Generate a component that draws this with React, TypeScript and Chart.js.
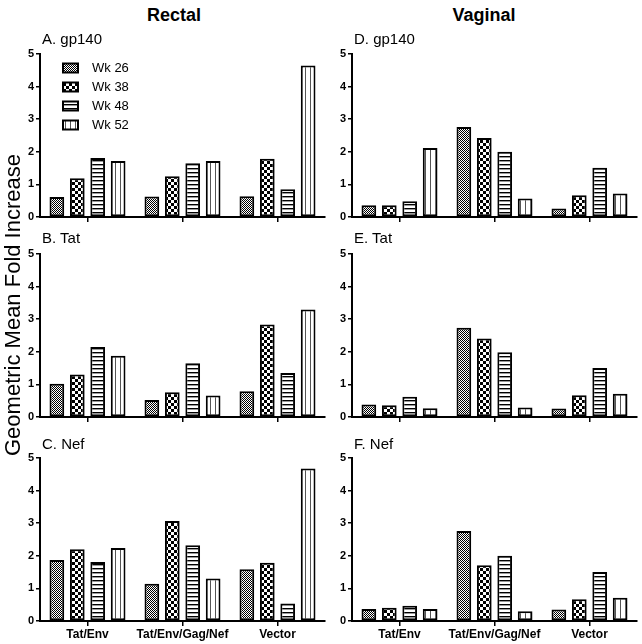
import React, { useEffect, useRef } from 'react';
import { Chart, registerables } from 'chart.js';

Chart.register(...registerables);

const FONT = "'Liberation Sans', Arial, Helvetica, sans-serif";

const categories = ['Tat/Env', 'Tat/Env/Gag/Nef', 'Vector'];
const weeks = ['Wk 26', 'Wk 38', 'Wk 48', 'Wk 52'];
const yMin = 0;
const yMax = 5;
const yStep = 1;

// values per week (rows) across categories (columns)
const rectalGp140 = [
  [0.61, 0.63, 0.64],
  [1.19, 1.25, 1.79],
  [1.81, 1.65, 0.85],
  [1.72, 1.72, 4.65],
];
const rectalTat = [
  [1.02, 0.52, 0.79],
  [1.3, 0.76, 2.84],
  [2.15, 1.65, 1.35],
  [1.88, 0.66, 3.3],
];
const rectalNef = [
  [1.87, 1.14, 1.59],
  [2.2, 3.07, 1.79],
  [1.81, 2.32, 0.54],
  [2.24, 1.3, 4.68],
];
const vaginalGp140 = [
  [0.36, 2.76, 0.26],
  [0.36, 2.42, 0.67],
  [0.48, 2.0, 1.51],
  [2.12, 0.57, 0.72],
];
const vaginalTat = [
  [0.38, 2.74, 0.26],
  [0.36, 2.41, 0.67],
  [0.62, 1.99, 1.5],
  [0.27, 0.29, 0.71],
];
const vaginalNef = [
  [0.37, 2.76, 0.35],
  [0.41, 1.71, 0.67],
  [0.47, 2.0, 1.5],
  [0.37, 0.3, 0.71],
];

const columnTitles = ['Rectal', 'Vaginal'];
const panelTitles = ['A. gp140', 'B. Tat', 'C. Nef', 'D. gp140', 'E. Tat', 'F. Nef'];
const yAxisTitle = 'Geometric Mean Fold Increase';

function makePattern(kind: number): CanvasPattern | string {
  const c = document.createElement('canvas');
  const ctx = c.getContext('2d')!;
  if (kind === 0) {
    c.width = 4; c.height = 4;
    ctx.fillStyle = '#fff'; ctx.fillRect(0, 0, 4, 4);
    ctx.fillStyle = '#000';
    for (let y = 0; y < 4; y++) for (let x = 0; x < 4; x++) if ((x + y) % 2 === 0) ctx.fillRect(x, y, 1, 1);
  } else if (kind === 1) {
    c.width = 6; c.height = 6;
    ctx.fillStyle = '#fff'; ctx.fillRect(0, 0, 6, 6);
    ctx.fillStyle = '#000';
    ctx.fillRect(0, 0, 3, 3); ctx.fillRect(3, 3, 3, 3);
  } else if (kind === 2) {
    c.width = 4; c.height = 4;
    ctx.fillStyle = '#fff'; ctx.fillRect(0, 0, 4, 4);
    ctx.fillStyle = '#000'; ctx.fillRect(0, 0, 4, 1);
    ctx.fillStyle = '#999'; ctx.fillRect(0, 1, 4, 1);
  } else {
    c.width = 5; c.height = 4;
    ctx.fillStyle = '#fff'; ctx.fillRect(0, 0, 5, 4);
    ctx.fillStyle = '#555'; ctx.fillRect(0, 0, 1, 4);
  }
  return ctx.createPattern(c, 'repeat') || '#888';
}

const insideLegend = {
  id: 'insideLegend',
  afterDatasetsDraw(chart: any, _args: any, opts: any) {
    if (!opts || !opts.show) return;
    const ctx = chart.ctx;
    const a = chart.chartArea;
    chart.data.datasets.forEach((ds: any, i: number) => {
      const cy = a.top + 14 + i * 19;
      const x = a.left + 23;
      ctx.save();
      ctx.fillStyle = ds.backgroundColor;
      ctx.fillRect(x, cy - 4.5, 15, 9);
      ctx.lineWidth = 2;
      ctx.strokeStyle = '#000';
      ctx.strokeRect(x, cy - 4.5, 15, 9);
      ctx.fillStyle = '#000';
      ctx.font = `13px ${FONT}`;
      ctx.textBaseline = 'middle';
      ctx.textAlign = 'left';
      ctx.fillText(ds.label, a.left + 52, cy);
      ctx.restore();
    });
  },
};

type PanelProps = {
  left: number; top: number; width: number; height: number;
  yW: number; xH: number; values: number[][]; showX: boolean; legend?: boolean;
};

function Panel({ left, top, width, height, yW, xH, values, showX, legend }: PanelProps) {
  const ref = useRef<HTMLCanvasElement>(null);
  useEffect(() => {
    if (!ref.current) return;
    const datasets = weeks.map((w, i) => ({
      label: w,
      data: values[i],
      backgroundColor: makePattern(i) as any,
      borderColor: '#000',
      borderWidth: 2,
      borderSkipped: false as any,
      categoryPercentage: 0.86,
      barPercentage: 0.72,
    }));
    const chart = new Chart(ref.current, {
      type: 'bar',
      data: { labels: categories, datasets },
      plugins: [insideLegend as any],
      options: {
        responsive: false,
        maintainAspectRatio: false,
        animation: false,
        events: [],
        layout: { padding: { top: 10, right: 5, left: 0, bottom: 0 } },
        plugins: {
          legend: { display: false },
          tooltip: { enabled: false },
          insideLegend: { show: !!legend },
        } as any,
        scales: {
          x: {
            type: 'category',
            offset: true,
            grid: {
              display: true, drawOnChartArea: false, drawTicks: true, tickLength: 5,
              offset: false, color: '#000', lineWidth: 1.5,
            },
            border: { display: true, color: '#000', width: 2 },
            ticks: {
              display: showX, autoSkip: false, maxRotation: 0, minRotation: 0, color: '#000',
              font: { family: FONT, size: 12, weight: 'bold' }, padding: 1,
            },
            afterFit: (s: any) => { s.height = xH; },
          },
          y: {
            min: yMin, max: yMax,
            grid: {
              display: true, drawOnChartArea: false, drawTicks: true, tickLength: 4,
              color: '#000', lineWidth: 1.5,
            },
            border: { display: true, color: '#000', width: 2 },
            ticks: {
              stepSize: yStep, color: '#000', padding: 2,
              font: { family: FONT, size: 11, weight: 'bold' },
            },
            afterFit: (s: any) => { s.width = yW; },
          },
        },
      } as any,
    });
    return () => chart.destroy();
  }, []);
  return (
    <canvas
      ref={ref}
      width={width}
      height={height}
      style={{ position: 'absolute', left, top, width, height }}
    />
  );
}

const textBase: React.CSSProperties = {
  position: 'absolute', fontFamily: FONT, color: '#000', whiteSpace: 'nowrap', lineHeight: 1,
};

export default function App() {
  const panels = [
    { values: rectalGp140, col: 0, row: 0, legend: true },
    { values: rectalTat, col: 0, row: 1 },
    { values: rectalNef, col: 0, row: 2 },
    { values: vaginalGp140, col: 1, row: 0 },
    { values: vaginalTat, col: 1, row: 1 },
    { values: vaginalNef, col: 1, row: 2 },
  ];
  const colLeft = [0, 330];
  const colWidth = [330, 312];
  const colYW = [40, 22];
  const rowTop = [44, 244, 448];
  const rowH = [195, 195, 196];
  const rowXH = [22, 22, 23];
  const titleY = [38, 237, 443];
  const titleX = [42, 354];
  return (
    <div style={{ position: 'absolute', left: 0, top: 0, width: 642, height: 644, background: '#fff', overflow: 'hidden' }}>
      {panels.map((p, i) => (
        <Panel
          key={i}
          left={colLeft[p.col]}
          top={rowTop[p.row]}
          width={colWidth[p.col]}
          height={rowH[p.row]}
          yW={colYW[p.col]}
          xH={rowXH[p.row]}
          values={p.values}
          showX={p.row === 2}
          legend={p.legend}
        />
      ))}
      <div style={{ ...textBase, left: 174, top: 15, fontSize: 18, fontWeight: 'bold', transform: 'translate(-50%,-50%)' }}>{columnTitles[0]}</div>
      <div style={{ ...textBase, left: 484, top: 15, fontSize: 18, fontWeight: 'bold', transform: 'translate(-50%,-50%)' }}>{columnTitles[1]}</div>
      {panels.map((p, i) => (
        <div key={'t' + i} style={{ ...textBase, left: titleX[p.col], top: titleY[p.row], fontSize: 15, transform: 'translate(0,-50%)' }}>
          {panelTitles[i]}
        </div>
      ))}
      <div style={{ ...textBase, left: 13, top: 305, fontSize: 22, transform: 'translate(-50%,-50%) rotate(-90deg)' }}>{yAxisTitle}</div>
    </div>
  );
}
